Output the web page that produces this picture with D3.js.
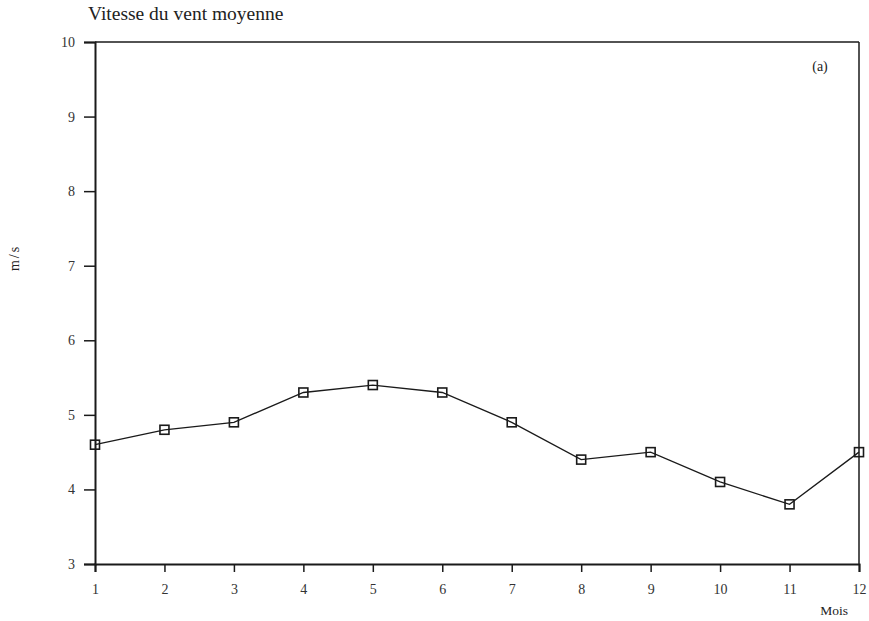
<!DOCTYPE html>
<html>
<head>
<meta charset="utf-8">
<script src="https://cdn.jsdelivr.net/npm/d3@7"></script>
<style>
  html, body { margin: 0; padding: 0; background: #fff; }
  svg { display: block; font-family: "Liberation Serif", "DejaVu Serif", serif; }
</style>
</head>
<body>
<svg id="chart" width="869" height="621"></svg>
<script>
// Monthly mean wind speed (m/s)
const months = [1, 2, 3, 4, 5, 6, 7, 8, 9, 10, 11, 12];
const windSpeed = [4.6, 4.8, 4.9, 5.3, 5.4, 5.3, 4.9, 4.4, 4.5, 4.1, 3.8, 4.5];
const yTicks = [3, 4, 5, 6, 7, 8, 9, 10];

const svg = d3.select("#chart");
const plotLeft = 95, plotRight = 859, plotTop = 42, plotBottom = 564;

const x = d3.scaleLinear().domain([1, 12]).range([plotLeft, plotRight]);
const y = d3.scaleLinear().domain([3, 10]).range([plotBottom, plotTop]);

const ink = "#1a1a1a";

// Frame: top and right borders
svg.append("line").attr("x1", plotLeft).attr("x2", plotRight).attr("y1", plotTop).attr("y2", plotTop)
  .attr("stroke", ink).attr("stroke-width", 1.5);
svg.append("line").attr("x1", plotRight).attr("x2", plotRight).attr("y1", plotTop).attr("y2", plotBottom)
  .attr("stroke", ink).attr("stroke-width", 1.5);

// Y axis
const yAxis = svg.append("g").attr("transform", `translate(${plotLeft},0)`)
  .call(d3.axisLeft(y).tickValues(yTicks).tickSize(11).tickPadding(9).tickFormat(d3.format("d")));
yAxis.select(".domain").attr("stroke", ink).attr("stroke-width", 2);
yAxis.selectAll(".tick line").attr("stroke", ink).attr("stroke-width", 1.5);
yAxis.selectAll(".tick text").attr("fill", "#333").attr("font-size", 14)
  .attr("font-family", "Liberation Serif, serif");

// X axis
const xAxis = svg.append("g").attr("transform", `translate(0,${plotBottom})`)
  .call(d3.axisBottom(x).tickValues(months).tickSize(8).tickPadding(12).tickFormat(d3.format("d")));
xAxis.select(".domain").attr("stroke", ink).attr("stroke-width", 2);
xAxis.selectAll(".tick line").attr("stroke", ink).attr("stroke-width", 1.5);
xAxis.selectAll(".tick text").attr("fill", "#333").attr("font-size", 14)
  .attr("font-family", "Liberation Serif, serif");

// Data line
const line = d3.line().x((d, i) => x(months[i])).y(d => y(d));
svg.append("path").datum(windSpeed)
  .attr("d", line).attr("fill", "none").attr("stroke", ink).attr("stroke-width", 1.3);

// Square markers
const s = 9;
svg.selectAll("rect.pt").data(windSpeed).enter().append("rect")
  .attr("class", "pt")
  .attr("x", (d, i) => x(months[i]) - s / 2)
  .attr("y", d => y(d) - s / 2)
  .attr("width", s).attr("height", s)
  .attr("fill", "none").attr("stroke", ink).attr("stroke-width", 1.6);

// Texts
svg.append("text").attr("x", 88).attr("y", 20).attr("font-size", 19.5).attr("fill", "#222")
  .text("Vitesse du vent moyenne");
svg.append("text").attr("x", 820).attr("y", 71).attr("font-size", 14).attr("fill", "#222")
  .attr("text-anchor", "middle").text("(a)");
svg.append("text").attr("x", 848).attr("y", 615).attr("font-size", 13.5).attr("fill", "#222")
  .attr("text-anchor", "end").text("Mois");
svg.append("text").attr("transform", "translate(19,258) rotate(-90)").attr("font-size", 14)
  .attr("fill", "#222").attr("text-anchor", "middle").attr("letter-spacing", 2).text("m/s");
</script>
</body>
</html>
